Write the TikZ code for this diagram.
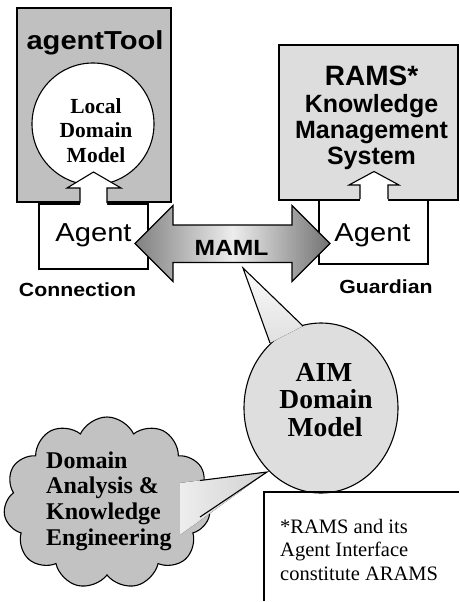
\documentclass[tikz,border=0pt]{standalone}
\usepackage{fontspec}
\setmainfont{Liberation Serif}
\newfontfamily\sanswide[FakeStretch=1.12]{Liberation Sans}
\newfontfamily\sansn{Liberation Sans}
\usetikzlibrary{shapes.symbols}
\definecolor{toolgray}{RGB}{192,192,192}
\definecolor{ramsgray}{RGB}{221,221,221}
\definecolor{cloudgray}{RGB}{194,194,194}
\definecolor{aimgray}{RGB}{222,222,222}
\tikzset{
  outline/.style={draw=black, line width=1.1pt},
  swide/.style={font=\sanswide\fontsize{#1}{#1}\selectfont},
  swideb/.style={font=\sanswide\bfseries\fontsize{#1}{#1}\selectfont},
  snb/.style={font=\sansn\bfseries\fontsize{#1}{#1}\selectfont},
  serb/.style={font=\rmfamily\bfseries\fontsize{#1}{#1}\selectfont},
  serr/.style={font=\rmfamily\fontsize{#1}{#1}\selectfont},
  txt/.style={anchor=base, inner sep=0pt},
  txtl/.style={anchor=base west, inner sep=0pt},
}
\begin{document}
\begin{tikzpicture}[x=1pt,y=-1pt]
\useasboundingbox (0,0) rectangle (459,602);

% agentTool box and local model
\draw[outline, fill=toolgray] (17,8) rectangle (171,202);
\draw[outline, fill=white] (93,124) circle [radius=61];
\draw[outline, fill=white] (39,204) rectangle (148,269);
\fill[white] (80,206) -- (80,188) -- (67,188) -- (93.5,172) -- (121,188) -- (107,188) -- (107,206) -- cycle;
\draw[outline, line join=miter] (80,203) -- (80,188) -- (67,188) -- (93.5,172) -- (121,188) -- (107,188) -- (107,203);

% RAMS box
\draw[outline, fill=ramsgray] (279,45) rectangle (458,200);
\draw[outline, fill=white] (319,200) rectangle (428,264);

% text in boxes
\node[swideb=26, txt] (tool) at (95,49) {agentTool};
\node[serb=21.5, txt] (ldm1) at (96,113) {Local};
\node[serb=21.5, txt] (ldm2) at (96,137.5) {Domain};
\node[serb=21.5, txt] (ldm3) at (96,162) {Model};
\node[snb=28, txt] (rams1) at (371.5,85) {RAMS*};
\node[snb=25, txt] (rams2) at (371.5,112) {Knowledge};
\node[snb=25, txt] (rams3) at (371.5,138) {Management};
\node[snb=25, txt] (rams4) at (371.5,164) {System};

\fill[white] (360,202) -- (360,185) -- (349,185) -- (374,171.5) -- (399,185) -- (388,185) -- (388,202) -- cycle;
\draw[outline, line join=miter] (360,199) -- (360,185) -- (349,185) -- (374,171.5) -- (399,185) -- (388,185) -- (388,199);

\node[swide=26, txt] (agentL) at (93.5,241) {Agent};
\node[swide=26, txt] (agentR) at (372.5,241) {Agent};
\node[swideb=19, txt] (conn) at (77.5,296.5) {Connection};
\node[swideb=19, txt] (guard) at (386,293.3) {Guardian};

% MAML double arrow
\draw[outline, line join=miter, left color=black!50, right color=black!55, middle color=black!7]
  (135,243.5) -- (173,205.5) -- (173,225) -- (292,225) -- (292,205.5) -- (330,243.5)
  -- (292,281.5) -- (292,262.5) -- (173,262.5) -- (173,281.5) -- cycle;
\node[swideb=22, txt] (maml) at (231.5,255) {MAML};

% AIM domain model callout
\draw[outline, fill=aimgray] (321,408) ellipse [x radius=77, y radius=85];
\fill[top color=black!2, bottom color=black!12] (243,268) -- (270,343) -- (303,326) -- cycle;
\draw[outline, line join=miter] (270,343) -- (243,268) -- (303,326);
\node[serb=27.5, txt] (aim1) at (324,381) {AIM};
\node[serb=27.5, txt] (aim2) at (326,408.5) {Domain};
\node[serb=27.5, txt] (aim3) at (325,436) {Model};

% cloud
\node[cloud, cloud puffs=11, cloud puff arc=130, aspect=1.2, outline, fill=cloudgray,
      minimum width=207pt, minimum height=172pt, inner sep=0pt] (cloud) at (107,503) {};
\fill[left color=black!7, right color=black!18] (180,483) -- (267,472) -- (180,535) -- cycle;
\draw[outline, line join=miter] (200,480.5) -- (267,472) -- (200,517);
\node[serb=24, txtl] (dak1) at (46,468) {Domain};
\node[serb=24, txtl] (dak2) at (46,493.5) {Analysis \&};
\node[serb=24, txtl] (dak3) at (46,519) {Knowledge};
\node[serb=24, txtl] (dak4) at (46,545) {Engineering};

% note box
\draw[outline] (264,601) -- (264,492) -- (459,492);
\node[serr=20.5, txtl] (note1) at (280,533) {*RAMS and its};
\node[serr=20.5, txtl] (note2) at (280,556.5) {Agent Interface};
\node[serr=20.5, txtl] (note3) at (280,580) {constitute ARAMS};
\end{tikzpicture}
\end{document}
